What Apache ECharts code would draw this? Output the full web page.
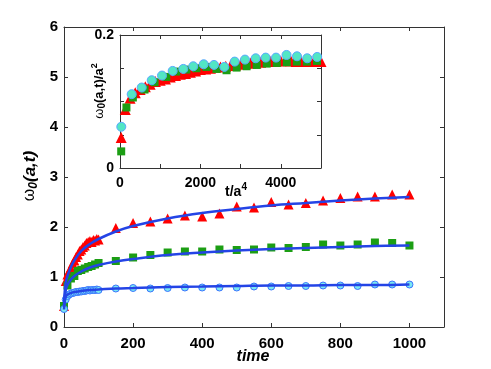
<!DOCTYPE html>
<html>
<head>
<meta charset="utf-8">
<script src="https://cdn.jsdelivr.net/npm/echarts@6/dist/echarts.min.js"></script>
<style>
html,body{margin:0;padding:0;background:#fff;}
#chart{width:491px;height:369px;}
</style>
</head>
<body>
<div id="chart"></div>
<script>
// main plot: time axis, three data sets (red / green / cyan) + blue fits
var timeRed = [0,5,10,15,20,25,30,35,40,45,50,55,60,65,70,75,80,85,90,95,100,
	150,200,250,300,350,400,450,500,550,600,650,700,750,800,850,900,950,1000];
var valRed = [0.42,0.92,1.05,1.12,1.18,1.27,1.33,1.40,1.45,1.52,1.55,1.60,1.63,1.68,1.70,1.72,1.70,1.74,1.73,1.76,1.75,
	1.98,2.08,2.11,2.17,2.23,2.21,2.27,2.41,2.39,2.50,2.45,2.48,2.53,2.58,2.61,2.61,2.65,2.65];

var timeGreen = [0,10,20,30,40,50,60,70,80,90,100,
	150,200,250,300,350,400,450,500,550,600,650,700,750,800,850,900,950,1000];
var valGreen = [0.42,0.83,0.97,1.02,1.12,1.14,1.17,1.20,1.22,1.25,1.28,
	1.32,1.39,1.44,1.49,1.51,1.51,1.55,1.54,1.55,1.59,1.58,1.60,1.65,1.63,1.65,1.69,1.68,1.63];

var timeCyan = timeRed;
var valCyan = [0.36,0.55,0.62,0.65,0.67,0.68,0.69,0.70,0.70,0.71,0.71,0.72,0.72,0.73,0.74,0.73,0.74,0.74,0.74,0.75,0.74,
	0.77,0.78,0.77,0.78,0.79,0.79,0.79,0.79,0.81,0.81,0.82,0.82,0.83,0.83,0.82,0.85,0.85,0.85];

// fitted curves
var fitTime = [0,2,5,10,20,30,50,75,100,150,200,300,400,500,600,700,800,900,1000];
var fitRed = [0.42,0.70,0.88,1.02,1.20,1.33,1.52,1.66,1.76,1.91,2.02,2.17,2.28,2.36,2.43,2.48,2.53,2.57,2.60];
var fitGreen = [0.40,0.60,0.73,0.84,0.95,1.02,1.11,1.19,1.24,1.31,1.36,1.44,1.49,1.53,1.56,1.58,1.60,1.62,1.63];
var fitCyan = [0.35,0.50,0.60,0.65,0.68,0.70,0.72,0.74,0.75,0.77,0.78,0.80,0.81,0.82,0.83,0.83,0.84,0.84,0.85];

// inset: t/a^4 vs w0/a^2
var insRedT = [30,130,250,380,500,630,750,880,1000,1130,1250,1380,1500,1630,1750,1880,2000,2130,2250,2380,2500,
	2630,2750,2880,3000,3130,3250,3380,3500,3630,3750,3880,4000,4130,4250,4380,4500,4630,4750,4880,5000];
var insRedV = [0.046,0.088,0.105,0.113,0.118,0.122,0.126,0.130,0.132,0.134,0.137,0.139,0.141,0.142,0.144,0.146,0.148,0.149,0.150,0.152,0.152,
	0.153,0.154,0.155,0.156,0.157,0.158,0.158,0.159,0.160,0.160,0.161,0.161,0.162,0.161,0.160,0.161,0.160,0.161,0.160,0.160];
var insGreenT = [30,160,320,610,860,1150,1400,1650,1900,2150,2400,2650,2900,3150,3400,3650,3900,4150,4400,4650,4900];
var insGreenV = [0.025,0.091,0.106,0.118,0.129,0.137,0.145,0.148,0.150,0.152,0.149,0.147,0.151,0.153,0.155,0.157,0.158,0.159,0.160,0.160,0.161];
var insCyanT = [32,291,540,789,1045,1311,1575,1823,2082,2338,2594,2853,3109,3375,3624,3881,4142,4403,4657,4905];
var insCyanV = [0.062,0.111,0.121,0.132,0.139,0.146,0.149,0.153,0.156,0.155,0.152,0.160,0.163,0.165,0.166,0.166,0.170,0.168,0.165,0.167];

function pairs(xs, ys){
	var out = [];
	for(var i=0;i<xs.length;i++){
		out.push([xs[i], ys[i]]);
	}
	return out;
}

var FONT = '"Liberation Sans", Arial, sans-serif';
var AX = '#333';

function boxAxis(pos, grid, min, max, interval, showLabel, fmt, size, margin){
	return {
		type:'value', gridIndex:grid, position:pos, min:min, max:max, interval:interval,
		axisLine:{show:true, onZero:false, lineStyle:{color:AX, width:1}},
		axisTick:{show:true, inside:true, length:4, lineStyle:{color:AX}},
		splitLine:{show:false},
		axisLabel:{show:showLabel, formatter:fmt, color:'#000', fontWeight:'bold',
			fontFamily:FONT, fontSize:size, margin:margin}
	};
}

var myChart = echarts.init(document.getElementById('chart'));

var option = {
	animation:false,
	backgroundColor:'#fff',
	grid:[
		{left:64, top:27, width:380, height:300},
		{left:120, top:35, width:201, height:133, show:true, backgroundColor:'#fff', borderWidth:0}
	],
	xAxis:[
		boxAxis('bottom',0,0,1100,200,true,function(v){return v<=1000?v:'';},15,9),
		boxAxis('top',0,0,1100,200,false),
		boxAxis('bottom',1,0,5000,1000,true,function(v){return v%2000===0?v:'';},14,8),
		boxAxis('top',1,0,5000,1000,false)
	],
	yAxis:[
		boxAxis('left',0,0,6,1,true,null,15,6),
		boxAxis('right',0,0,6,1,false),
		boxAxis('left',1,0,0.2,0.05,true,function(v){return (v===0||Math.abs(v-0.2)<1e-9)?v:'';},14,6),
		boxAxis('right',1,0,0.2,0.05,false)
	],
	graphic:[
		{type:'text', x:30, y:176, rotation:Math.PI/2,
			style:{text:'{w|ω}{s|0}{b|(a,t)}', align:'center', verticalAlign:'middle',
				rich:{
					w:{fontFamily:FONT, fontSize:16, fill:'#000'},
					s:{fontFamily:FONT, fontSize:12, fontWeight:'bold', fontStyle:'italic', fill:'#000', padding:[8,0,0,0]},
					b:{fontFamily:FONT, fontSize:17, fontWeight:'bold', fontStyle:'italic', fill:'#000'}
				}}},
		{type:'text', x:253, y:357,
			style:{text:'time', align:'center', verticalAlign:'middle', fontFamily:FONT,
				fontSize:16, fontWeight:'bold', fontStyle:'italic', fill:'#000'}},
		{type:'text', x:99, y:91, rotation:Math.PI/2,
			style:{text:'{w|ω}{s|0}{b|(a,t)/a}{p|2}', align:'center', verticalAlign:'middle',
				rich:{
					w:{fontFamily:FONT, fontSize:13, fill:'#000'},
					s:{fontFamily:FONT, fontSize:10, fontWeight:'bold', fill:'#000', padding:[7,0,0,0]},
					b:{fontFamily:FONT, fontSize:13, fontWeight:'bold', fill:'#000'},
					p:{fontFamily:FONT, fontSize:9, fontWeight:'bold', fill:'#000', padding:[0,0,8,0]}
				}}},
		{type:'text', x:236, y:192,
			style:{text:'{b|t/a}{p|4}', align:'center', verticalAlign:'middle',
				rich:{
					b:{fontFamily:FONT, fontSize:14, fontWeight:'bold', fill:'#000'},
					p:{fontFamily:FONT, fontSize:10, fontWeight:'bold', fill:'#000', padding:[0,0,9,0]}
				}}}
	],
	series:[
		{type:'scatter', xAxisIndex:0, yAxisIndex:0, data:pairs(timeRed,valRed), symbol:'triangle', symbolSize:10,
			itemStyle:{color:'#ff0000', opacity:1}, z:2},
		{type:'scatter', xAxisIndex:0, yAxisIndex:0, data:pairs(timeGreen,valGreen), symbol:'rect', symbolSize:8,
			itemStyle:{color:'#1c9e14', opacity:1}, z:2},
		{type:'scatter', xAxisIndex:0, yAxisIndex:0, data:pairs(timeCyan,valCyan), symbol:'circle', symbolSize:7,
			itemStyle:{color:'#7ae8f0', borderColor:'#3a74ff', borderWidth:1, opacity:1}, z:2},
		{type:'line', xAxisIndex:0, yAxisIndex:0, data:pairs(fitTime,fitRed), smooth:0.4, showSymbol:false,
			lineStyle:{color:'#2444e6', width:2.5}, z:3},
		{type:'line', xAxisIndex:0, yAxisIndex:0, data:pairs(fitTime,fitGreen), smooth:0.4, showSymbol:false,
			lineStyle:{color:'#2444e6', width:2.5}, z:3},
		{type:'line', xAxisIndex:0, yAxisIndex:0, data:pairs(fitTime,fitCyan), smooth:0.4, showSymbol:false,
			lineStyle:{color:'#2444e6', width:2.5}, z:3},
		// inset
		{type:'scatter', xAxisIndex:2, yAxisIndex:2, data:pairs(insRedT,insRedV), symbol:'triangle', symbolSize:11,
			itemStyle:{color:'#ff0000', opacity:1}, z:4},
		{type:'scatter', xAxisIndex:2, yAxisIndex:2, data:pairs(insGreenT,insGreenV), symbol:'rect', symbolSize:8,
			itemStyle:{color:'#1c9e14', opacity:1}, z:4},
		{type:'scatter', xAxisIndex:2, yAxisIndex:2, data:pairs(insCyanT,insCyanV), symbol:'circle', symbolSize:9,
			itemStyle:{color:'#52e6c4', borderColor:'#5aa8ff', borderWidth:1, opacity:1}, z:4}
	]
};
myChart.setOption(option);
</script>
</body>
</html>
